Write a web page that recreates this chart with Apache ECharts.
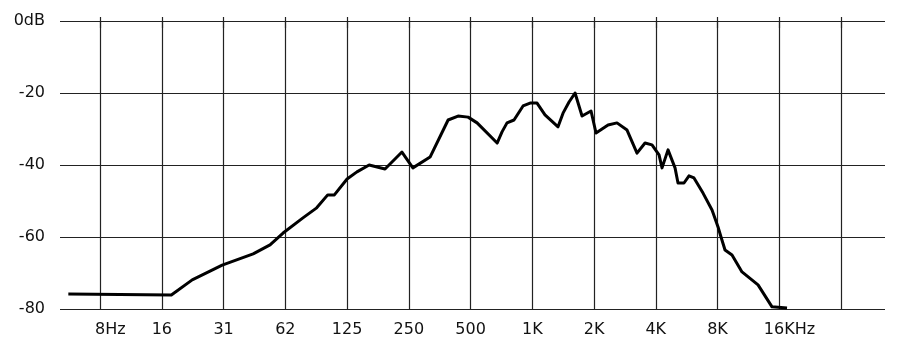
<!DOCTYPE html>
<html>
<head>
<meta charset="utf-8">
<script src="https://cdn.jsdelivr.net/npm/echarts@6/dist/echarts.min.js"></script>
<style>html,body{margin:0;padding:0;background:#fff}#c{width:900px;height:350px}</style>
</head>
<body>
<div id="c"></div>
<script>
// Frequency (Hz) of each traced point on the response curve
var freqHz = [5.6, 17.8, 22.5, 31.5, 44.6, 53.9, 62.4, 78, 91, 103, 111, 128, 143, 164, 196, 237, 268, 325,
  398, 445, 498, 551, 690, 729, 771, 834, 923, 999, 1080, 1181, 1367, 1446, 1547, 1655, 1790, 1980, 2094,
  2397, 2650, 2966, 3318, 3630, 3926, 4249, 4394, 4700, 5085, 5257, 5623, 5947, 6290, 6962, 7703, 8240,
  8520, 8912, 9640, 10784, 12912, 15104, 17880];
// Level (dB) at each point
var levelDb = [-75.8, -76.1, -71.9, -67.8, -64.7, -62.2, -58.9, -54.7, -51.9, -48.3, -48.3, -43.9, -41.9, -40.0,
  -41.1, -36.4, -40.8, -37.8, -27.5, -26.4, -26.7, -28.3, -33.9, -30.8, -28.3, -27.5, -23.6, -22.8, -22.8,
  -26.1, -29.4, -25.6, -22.5, -20.0, -26.4, -25.0, -31.1, -28.9, -28.3, -30.3, -36.7, -33.9, -34.4, -37.2,
  -40.8, -35.8, -40.8, -45.0, -45.0, -43.0, -43.6, -47.8, -52.5, -57.2, -60.0, -63.6, -65.0, -69.7, -73.3,
  -79.4, -79.7];
// Octave grid positions and their labels
var tickFreqs = [8, 16, 32, 64, 128, 256, 512, 1024, 2048, 4096, 8192, 16384, 32768];
var tickLabels = ['8', '16', '31', '62', '125', '250', '500', '1K', '2K', '4K', '8K', '16K', ''];
var tickSuffix = ['Hz', '', '', '', '', '', '', '', '', '', '', 'Hz', ''];
var yTicks = [0, -20, -40, -60, -80];
var yTickLabels = ['0dB', '-20', '-40', '-60', '-80'];

var FONT = 'DejaVu Sans';
var chart = echarts.init(document.getElementById('c'), null, {renderer: 'canvas'});
var xMin = 5.1, xMax = 53700;
function xLabel(v) {
  var i = tickFreqs.indexOf(Math.round(v));
  if (i < 0) return '';
  var s = tickSuffix[i];
  if (!s) return tickLabels[i];
  return '{p|' + s + '}' + tickLabels[i] + '{s|' + s + '}';
}
var richX = {
  p: {color: 'rgba(0,0,0,0)', fontFamily: FONT, fontSize: 16},
  s: {color: '#111', fontFamily: FONT, fontSize: 16}
};
chart.setOption({
  animation: false,
  backgroundColor: '#fff',
  grid: {left: 60, right: 15, top: 21, bottom: 41, containLabel: false},
  xAxis: [{
    type: 'log', logBase: 2, min: xMin, max: xMax, position: 'bottom',
    axisLine: {show: false},
    axisTick: {show: true, length: 7, customValues: tickFreqs, lineStyle: {color: '#222', width: 1.2}},
    axisLabel: {customValues: tickFreqs.slice(0, 12), formatter: xLabel, color: '#111', fontFamily: FONT, fontSize: 16, margin: 13, rich: richX},
    splitLine: {show: true, lineStyle: {color: '#222', width: 1.2}}
  }, {
    type: 'log', logBase: 2, min: xMin, max: xMax, position: 'top',
    axisLine: {show: false},
    axisTick: {show: true, length: 4, customValues: tickFreqs, lineStyle: {color: '#222', width: 1.2}},
    axisLabel: {show: false},
    splitLine: {show: false}
  }],
  yAxis: {
    type: 'value', min: -80, max: 0, interval: 20,
    axisLine: {show: false}, axisTick: {show: false},
    axisLabel: {
      color: '#111', fontFamily: FONT, fontSize: 16, margin: 15, padding: [4, 0, 0, 0],
      formatter: function (v) { var i = yTicks.indexOf(v); return i < 0 ? '' : yTickLabels[i]; }
    },
    splitLine: {show: true, lineStyle: {color: '#222', width: 1.2}}
  },
  series: [{
    type: 'line', xAxisIndex: 0,
    data: freqHz.map(function (f, i) { return [f, levelDb[i]]; }),
    showSymbol: false, symbol: 'none',
    lineStyle: {color: '#000', width: 3, join: 'round'},
    z: 5
  }]
});
</script>
</body>
</html>
